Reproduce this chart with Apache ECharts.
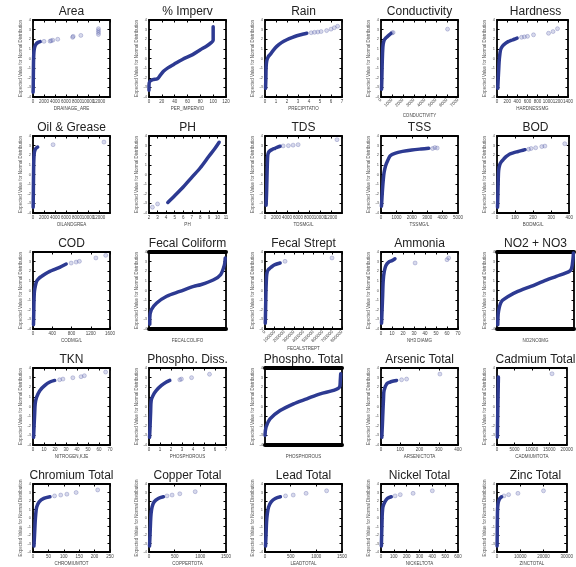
<!DOCTYPE html>
<html><head><meta charset="utf-8">
<script src="https://cdn.jsdelivr.net/npm/echarts@6/dist/echarts.min.js"></script>
<style>html,body{margin:0;padding:0;background:#fff}#chart{width:576px;height:567px}</style>
</head><body><div id="chart"></div>
<script>
// Normal probability plots: sorted value (x) vs expected normal quantile (y)
const titles = ['Area','% Imperv','Rain','Conductivity','Hardness',
  'Oil & Grease','PH','TDS','TSS','BOD',
  'COD','Fecal Coliform','Fecal Strept','Ammonia','NO2 + NO3',
  'TKN','Phospho. Diss.','Phospho. Total','Arsenic Total','Cadmium Total',
  'Chromium Total','Copper Total','Lead Total','Nickel Total','Zinc Total'];
const xNames = ['DRAINAGE_ARE','PER_IMPERVIO','PRECIPITATIO','CONDUCTIVITY','HARDNESSMG',
  'OILANDGREA','PH','TDSMG/L','TSSMG/L','BODMG/L',
  'CODMG/L','FECALCOLIFO','FECALSTREPT','NH3 DIAMG','NO2NO3MG',
  'NITROGEN,KJE','PHOSPHOROUS','PHOSPHOROUS','ARSENICTOTA','CADMIUMTOTA',
  'CHROMIUMTOT','COPPERTOTA','LEADTOTAL','NICKELTOTA','ZINCTOTAL'];
const xMins  = [0,0,0,0,0, 0,2,0,0,0, 0,0,0,0,0, 0,0,0,0,0, 0,0,0,0,0];
const xMaxs  = [14000,120,7,7000,1400, 14000,11,14000,5000,400, 1600,100,800000,70,100, 70,7,100,400,20000, 250,1500,1500,600,30000];
const xSteps = [2000,20,1,1000,200, 2000,1,2000,1000,100, 400,10,100000,10,10, 10,1,10,100,5000, 50,500,500,100,10000];
// panels whose x axis is drawn as a solid heavy bar with no labels
const heavyAxis = [11,14,17];
const rotatedLabels = [3,12];
const yTicks = [-4,4,1];

// dense part of each plot (many overlapping points) and sparse upper tail
const areaCurve = [[20,-3.5],[40,-3.0],[60,-2.0],[80,-1.0],[110,0],[160,0.6],[240,1.0],[380,1.3],[560,1.5],[850,1.65],[1300,1.75]];
const areaTail = [[2000,1.78],[3100,1.8],[3300,1.85],[3600,1.9],[4500,2.0],[7200,2.2],[7300,2.3],[8700,2.4],[11900,2.5],[11900,2.7],[11900,2.9],[11900,3.1]];
const imperCurve = [[0,-3.3],[0,-2.8],[1,-2.4],[6,-2.2],[13,-2.1],[18,-1.7],[23,-1.3],[30,-0.95],[39,-0.6],[52,-0.1],[68,0.4],[80,0.9],[90,1.3],[96,1.6],[100,1.9],[100,2.6],[100,3.3]];
const imperTail = [];
const rainCurve = [[0.05,-3.1],[0.08,-2.0],[0.1,-1.0],[0.15,-0.3],[0.3,0.2],[0.5,0.45],[0.75,0.85],[1.07,1.26],[1.5,1.65],[1.98,1.95],[2.5,2.2],[2.9,2.36],[3.5,2.55],[3.8,2.63]];
const rainTail = [[4.2,2.68],[4.5,2.72],[4.8,2.75],[5.1,2.8],[5.6,2.9],[6.0,3.05],[6.3,3.2],[6.6,3.35]];
const condCurve = [[50,-3.2],[80,-2],[110,-0.5],[150,0.8],[200,1.5],[300,1.95],[450,2.15],[600,2.3],[750,2.45],[900,2.6]];
const condTail = [[1000,2.65],[1100,2.7],[6050,3.05]];
const hardCurve = [[15,-3.1],[25,-2],[35,-1],[45,-0.1],[71,0.92],[110,1.3],[160,1.54],[220,1.75],[278,1.88],[340,2.0],[396,2.12]];
const hardTail = [[484,2.2],[540,2.25],[602,2.3],[720,2.46],[1016,2.62],[1105,2.8],[1193,3.1]];
const oilCurve = [[30,-3.4],[60,-2],[100,0],[150,1.5],[250,2.3],[400,2.6],[600,2.75],[850,2.85]];
const oilTail = [[3650,3.1],[12900,3.37]];
const phCurve = [[4.2,-2.9],[5.0,-2.2],[6.0,-1.3],[7.0,-0.3],[8.0,0.7],[9.0,1.9],[9.7,2.7],[10.2,3.35]];
const phTail = [[2.4,-3.4],[3.0,-3.06]];
const tdsCurve = [[200,-3.2],[280,-2],[350,-0.5],[420,1],[500,2.0],[650,2.3],[913,2.47],[1400,2.62],[1825,2.72],[2300,2.85],[2738,2.93]];
const tdsTail = [[3300,2.97],[4253,3.0],[5110,3.05],[6023,3.1],[13087,3.62]];
const tssCurve = [[30,-3.3],[60,-2.5],[100,-1.5],[150,-0.5],[200,0.2],[300,0.9],[450,1.5],[600,1.95],[900,2.2],[1400,2.4],[2000,2.55],[2600,2.65],[3100,2.72]];
const tssTail = [[3350,2.7],[3500,2.8],[3650,2.75]];
const bodCurve = [[3,-3.4],[5,-2],[7,-0.5],[9,0.4],[15,1.0],[25,1.35],[37,1.6],[50,1.85],[71,2.13],[90,2.25],[113,2.37],[135,2.48],[155,2.58]];
const bodTail = [[175,2.62],[189,2.7],[214,2.78],[248,2.9],[265,2.95],[375,3.2]];
const codCurve = [[10,-3.55],[15,-2.5],[20,-1.2],[30,-0.1],[50,0.5],[75,0.95],[120,1.25],[178,1.47],[260,1.75],[349,1.99],[450,2.2],[554,2.41],[690,2.75]];
const codTail = [[793,2.85],[896,2.95],[964,3.03],[1306,3.38],[1511,3.65]];
const fcolCurve = [[1,-3.5],[1,-2.86],[3,-2.0],[10,-1.3],[23,-0.6],[40,-0.1],[58,0.43],[67,0.6],[84,1.12],[93,1.64],[98,2.68],[99,3.38]];
const fcolTail = [];
const fstrCurve = [[3000,-3.4],[6000,-2],[9000,-0.5],[13000,0.8],[18000,1.65],[30000,2.1],[53000,2.34],[80000,2.55],[104000,2.68],[130000,2.78],[157000,2.86]];
const fstrTail = [[208000,3.03],[696000,3.38]];
const ammCurve = [[0.5,-3.4],[1,-2],[1.5,-0.5],[2,1],[3,2.0],[4.5,2.6],[7,2.95],[10,3.1],[12.7,3.3]];
const ammTail = [[31,2.86],[60,3.2],[61.5,3.38]];
const no3Curve = [[1,-3.55],[2,-2.16],[6,-1.13],[15,-0.6],[27,-0.1],[44,0.43],[60,0.95],[77,1.47],[94,1.99],[97,2.34],[98.8,3.38],[99.2,3.9]];
const no3Tail = [];
const tknCurve = [[0.5,-3.2],[1,-2],[1.5,-0.8],[2,0.28],[3.3,0.97],[6.3,1.67],[10.8,2.19],[15.3,2.54],[19.7,2.71]];
const tknTail = [[24.2,2.78],[27.2,2.85],[36.2,2.99],[43.7,3.1],[46.7,3.2],[66,3.58]];
const pdisCurve = [[0.05,-3.2],[0.1,-2],[0.15,-0.5],[0.2,0.63],[0.37,1.15],[0.67,1.67],[1.13,2.19],[1.58,2.54],[1.89,2.71]];
const pdisTail = [[2.8,2.78],[2.95,2.85],[3.87,3.0],[5.5,3.35]];
const ptotCurve = [[0,-3.0],[1.3,-2.16],[6.5,-1.29],[19.6,-0.42],[37,0.28],[54.3,0.8],[71.7,1.32],[89,1.67],[96.9,2.02],[97.8,2.71],[98.3,3.4]];
const ptotTail = [];
const asCurve = [[4,-3.2],[7,-2],[10,-0.5],[13,0.8],[16,1.67],[30,2.36],[47,2.54],[55,2.6],[81,2.71]];
const asTail = [[107,2.78],[133,2.85],[306,3.37]];
const cdCurve = [[100,-3.2],[200,-1],[300,1],[400,3.06]];
const cdTail = [[15780,3.4]];
const crCurve = [[3,-3.3],[5,-2],[7,-0.5],[9,0.5],[12,1.3],[20,1.9],[35,2.3],[55,2.5]];
const crTail = [[70,2.6],[90,2.7],[110,2.8],[140,3.0],[210,3.3]];
const cuCurve = [[10,-3.3],[20,-2],[30,-0.5],[40,0.5],[60,1.3],[100,1.9],[180,2.3],[280,2.5]];
const cuTail = [[350,2.6],[450,2.7],[600,2.85],[900,3.1]];
const pbCurve = [[10,-3.3],[20,-2],[30,-0.5],[45,0.5],[70,1.3],[120,1.9],[200,2.3],[300,2.5]];
const pbTail = [[400,2.6],[550,2.7],[800,2.9],[1200,3.2]];
const niCurve = [[3,-3.3],[5,-2],[8,-0.5],[10,0.5],[15,1.3],[30,1.9],[50,2.3],[80,2.5]];
const niTail = [[110,2.6],[150,2.75],[250,2.9],[400,3.2]];
const znCurve = [[50,-3.3],[100,-2],[150,-0.5],[200,0.5],[300,1.3],[600,1.9],[1200,2.3],[2000,2.5]];
const znTail = [[3000,2.6],[5000,2.75],[9000,2.9],[20000,3.2]];

const curves = [areaCurve,imperCurve,rainCurve,condCurve,hardCurve,oilCurve,phCurve,tdsCurve,tssCurve,bodCurve,
  codCurve,fcolCurve,fstrCurve,ammCurve,no3Curve,tknCurve,pdisCurve,ptotCurve,asCurve,cdCurve,
  crCurve,cuCurve,pbCurve,niCurve,znCurve];
const tails = [areaTail,imperTail,rainTail,condTail,hardTail,oilTail,phTail,tdsTail,tssTail,bodTail,
  codTail,fcolTail,fstrTail,ammTail,no3Tail,tknTail,pdisTail,ptotTail,asTail,cdTail,
  crTail,cuTail,pbTail,niTail,znTail];

const FONT = 'Liberation Sans';
const BOX_W = 77, BOX_H = 77, STEP_X = 116, STEP_Y = 116, LEFT0 = 33, TOP0 = 20;
const grid = [], xAxis = [], yAxis = [], series = [], title = [];
const plain = v => String(v);

titles.forEach((t, i) => {
  const r = Math.floor(i / 5), c = i % 5;
  const left = LEFT0 + STEP_X * c, top = TOP0 + STEP_Y * r;
  grid.push({left, top, width: BOX_W, height: BOX_H, containLabel: false});
  title.push({text: t, left: left + BOX_W / 2, top: top - 14, textAlign: 'center', padding: 0,
    textStyle: {fontFamily: FONT, fontSize: 12, fontWeight: 'normal', color: '#222'}});
  const heavy = heavyAxis.includes(i);
  const line = {show: true, onZero: false, lineStyle: {color: '#000', width: heavy ? 4 : 1.8}};
  const tick = {show: !heavy, inside: true, length: 2.5, lineStyle: {color: '#000', width: 1}};
  const common = {type: 'value', gridIndex: i, min: xMins[i], max: xMaxs[i], interval: xSteps[i],
    splitLine: {show: false}, axisLine: line, axisTick: tick};
  xAxis.push(Object.assign({}, common, {
    position: 'bottom',
    axisLabel: {show: !heavy, fontFamily: FONT, fontSize: 4.5, color: '#444', margin: 2,
      rotate: rotatedLabels.includes(i) ? 45 : 0, hideOverlap: false, formatter: plain},
    name: xNames[i], nameLocation: 'middle', nameGap: rotatedLabels.includes(i) ? 16 : 9,
    nameTextStyle: {fontFamily: FONT, fontSize: 4.5, color: '#444'}
  }));
  xAxis.push(Object.assign({}, common, {position: 'top', axisLabel: {show: false}}));
  const yCommon = {type: 'value', gridIndex: i, min: yTicks[0], max: yTicks[1], interval: yTicks[2],
    splitLine: {show: false}, axisLine: {show: true, onZero: false, lineStyle: {color: '#000', width: 1.8}},
    axisTick: {show: true, inside: true, length: 2.5, lineStyle: {color: '#000', width: 1}}};
  yAxis.push(Object.assign({}, yCommon, {
    position: 'left',
    axisLabel: {show: true, fontFamily: FONT, fontSize: 4, color: '#555', margin: 2, formatter: plain},
    name: 'Expected Value for Normal Distribution', nameLocation: 'middle', nameGap: 7,
    nameTextStyle: {fontFamily: FONT, fontSize: 4.5, color: '#555'}
  }));
  yAxis.push(Object.assign({}, yCommon, {position: 'right', axisLabel: {show: false}}));
  series.push({type: 'line', xAxisIndex: 2 * i, yAxisIndex: 2 * i, data: curves[i],
    showSymbol: false, smooth: 0.3, lineStyle: {color: '#2d3a92', width: 3.5, cap: 'round', join: 'round'},
    silent: true, z: 3});
  series.push({type: 'scatter', xAxisIndex: 2 * i, yAxisIndex: 2 * i, data: tails[i],
    symbol: 'circle', symbolSize: 4,
    itemStyle: {color: 'rgba(110,120,185,0.35)', borderColor: 'rgba(60,70,150,0.55)', borderWidth: 0.6},
    silent: true, z: 2});
});

const chart = echarts.init(document.getElementById('chart'), null, {renderer: 'canvas'});
chart.setOption({backgroundColor: '#fff', animation: false, title, grid, xAxis, yAxis, series});
</script></body></html>
